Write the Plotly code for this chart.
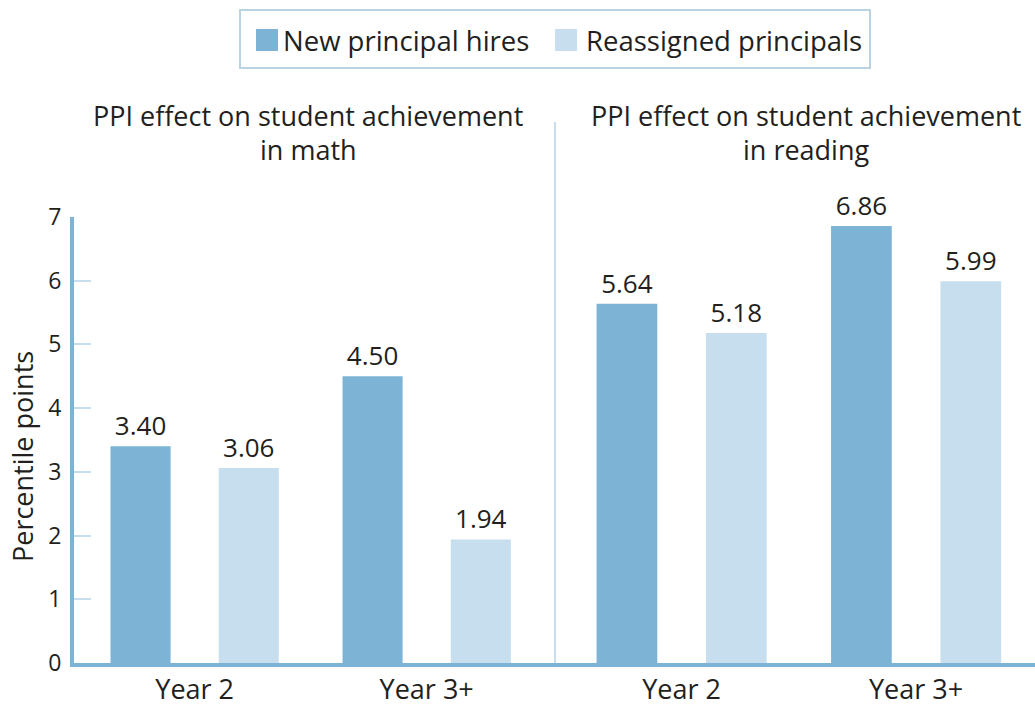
import plotly.graph_objects as go

categories = ["Year 2", "Year 3+"]
math_new = [3.40, 4.50]
math_reassigned = [3.06, 1.94]
reading_new = [5.64, 6.86]
reading_reassigned = [5.18, 5.99]
series_names = ["New principal hires", "Reassigned principals"]
panel_titles = [["PPI effect on student achievement", "in math"],
                ["PPI effect on student achievement", "in reading"]]
y_ticks = [0, 1, 2, 3, 4, 5, 6, 7]

DARK = "#7db4d6"
LIGHT = "#c6deee"
TXT = "#231f20"
FONT = "Open Sans"

W, H = 1035, 712
L, R, T, B = 74, 0, 217, 49
PW, PH = W - L - R, H - T - B

def px(x):
    return (x - L) / PW

def py(y):
    return (H - B - y) / PH

fig = go.Figure()

def add(vals, name, color, xa):
    fig.add_trace(go.Bar(
        x=categories, y=vals, name=name, marker=dict(color=color, line=dict(width=0)),
        text=[f"{v:.2f}" for v in vals], textposition="outside",
        textfont=dict(size=26, color=TXT, family=FONT),
        cliponaxis=False, xaxis=xa, yaxis="y", showlegend=False,
    ))

add(math_new, series_names[0], DARK, "x")
add(math_reassigned, series_names[1], LIGHT, "x")
add(reading_new, series_names[0], DARK, "x2")
add(reading_reassigned, series_names[1], LIGHT, "x2")

axis_common = dict(showline=True, linecolor=DARK, linewidth=4, ticks="",
                   tickfont=dict(size=27, color=TXT, family=FONT),
                   showgrid=False, zeroline=False, fixedrange=True)

mid = px(555)
fig.update_layout(
    width=W, height=H,
    margin=dict(l=L, r=R, t=T, b=B),
    paper_bgcolor="white", plot_bgcolor="white",
    font=dict(family=FONT, color=TXT),
    barmode="group", bargap=0.067, bargroupgap=0.445,
    xaxis=dict(domain=[0, mid], range=[-0.52, 1.553], **axis_common),
    xaxis2=dict(domain=[mid, 1], range=[-0.54, 1.507], anchor="y", **axis_common),
    yaxis=dict(range=[0, 7], tickvals=y_ticks, showline=True, linecolor=DARK, linewidth=4,
               ticks="inside", ticklen=17, tickwidth=2, tickcolor=LIGHT,
               tickfont=dict(size=23, color=TXT, family=FONT), ticklabelstandoff=4,
               showgrid=False, zeroline=False, fixedrange=True),
    showlegend=False,
)

# legend (box, swatches, labels)
fig.add_shape(type="rect", xref="paper", yref="paper", x0=px(240), x1=px(870),
              y0=py(68), y1=py(10), line=dict(color="#b9d3e3", width=2), fillcolor="white")
for (x0, x1), color, name, tx in zip([(256, 278), (555, 577)], [DARK, LIGHT], series_names, [283, 586]):
    fig.add_shape(type="rect", xref="paper", yref="paper", x0=px(x0), x1=px(x1),
                  y0=py(51), y1=py(29), line=dict(width=0), fillcolor=color)
    fig.add_annotation(x=px(tx), y=py(40), xref="paper", yref="paper", text=name,
                       showarrow=False, xanchor="left", yanchor="middle", xshift=-2,
                       font=dict(size=27.5, color=TXT, family=FONT))

# panel titles
for xc, lines in zip([308, 806], panel_titles):
    for yc, t in zip([116, 149], lines):
        fig.add_annotation(x=px(xc), y=py(yc), xref="paper", yref="paper", text=t,
                           showarrow=False, yanchor="middle", xanchor="center",
                           font=dict(size=27, color=TXT, family=FONT))

# y-axis title
fig.add_annotation(x=px(22), y=py(457), xref="paper", yref="paper", text="Percentile points",
                   textangle=-90, showarrow=False, xanchor="center", yanchor="middle",
                   font=dict(size=27, color=TXT, family=FONT))

# divider
fig.add_shape(type="line", xref="paper", yref="paper", x0=mid, x1=mid, y0=0, y1=py(122),
              line=dict(color=LIGHT, width=2), layer="below")

fig.write_html("out.html", config={"displayModeBar": False},
               post_script="document.body.style.margin='0';")
